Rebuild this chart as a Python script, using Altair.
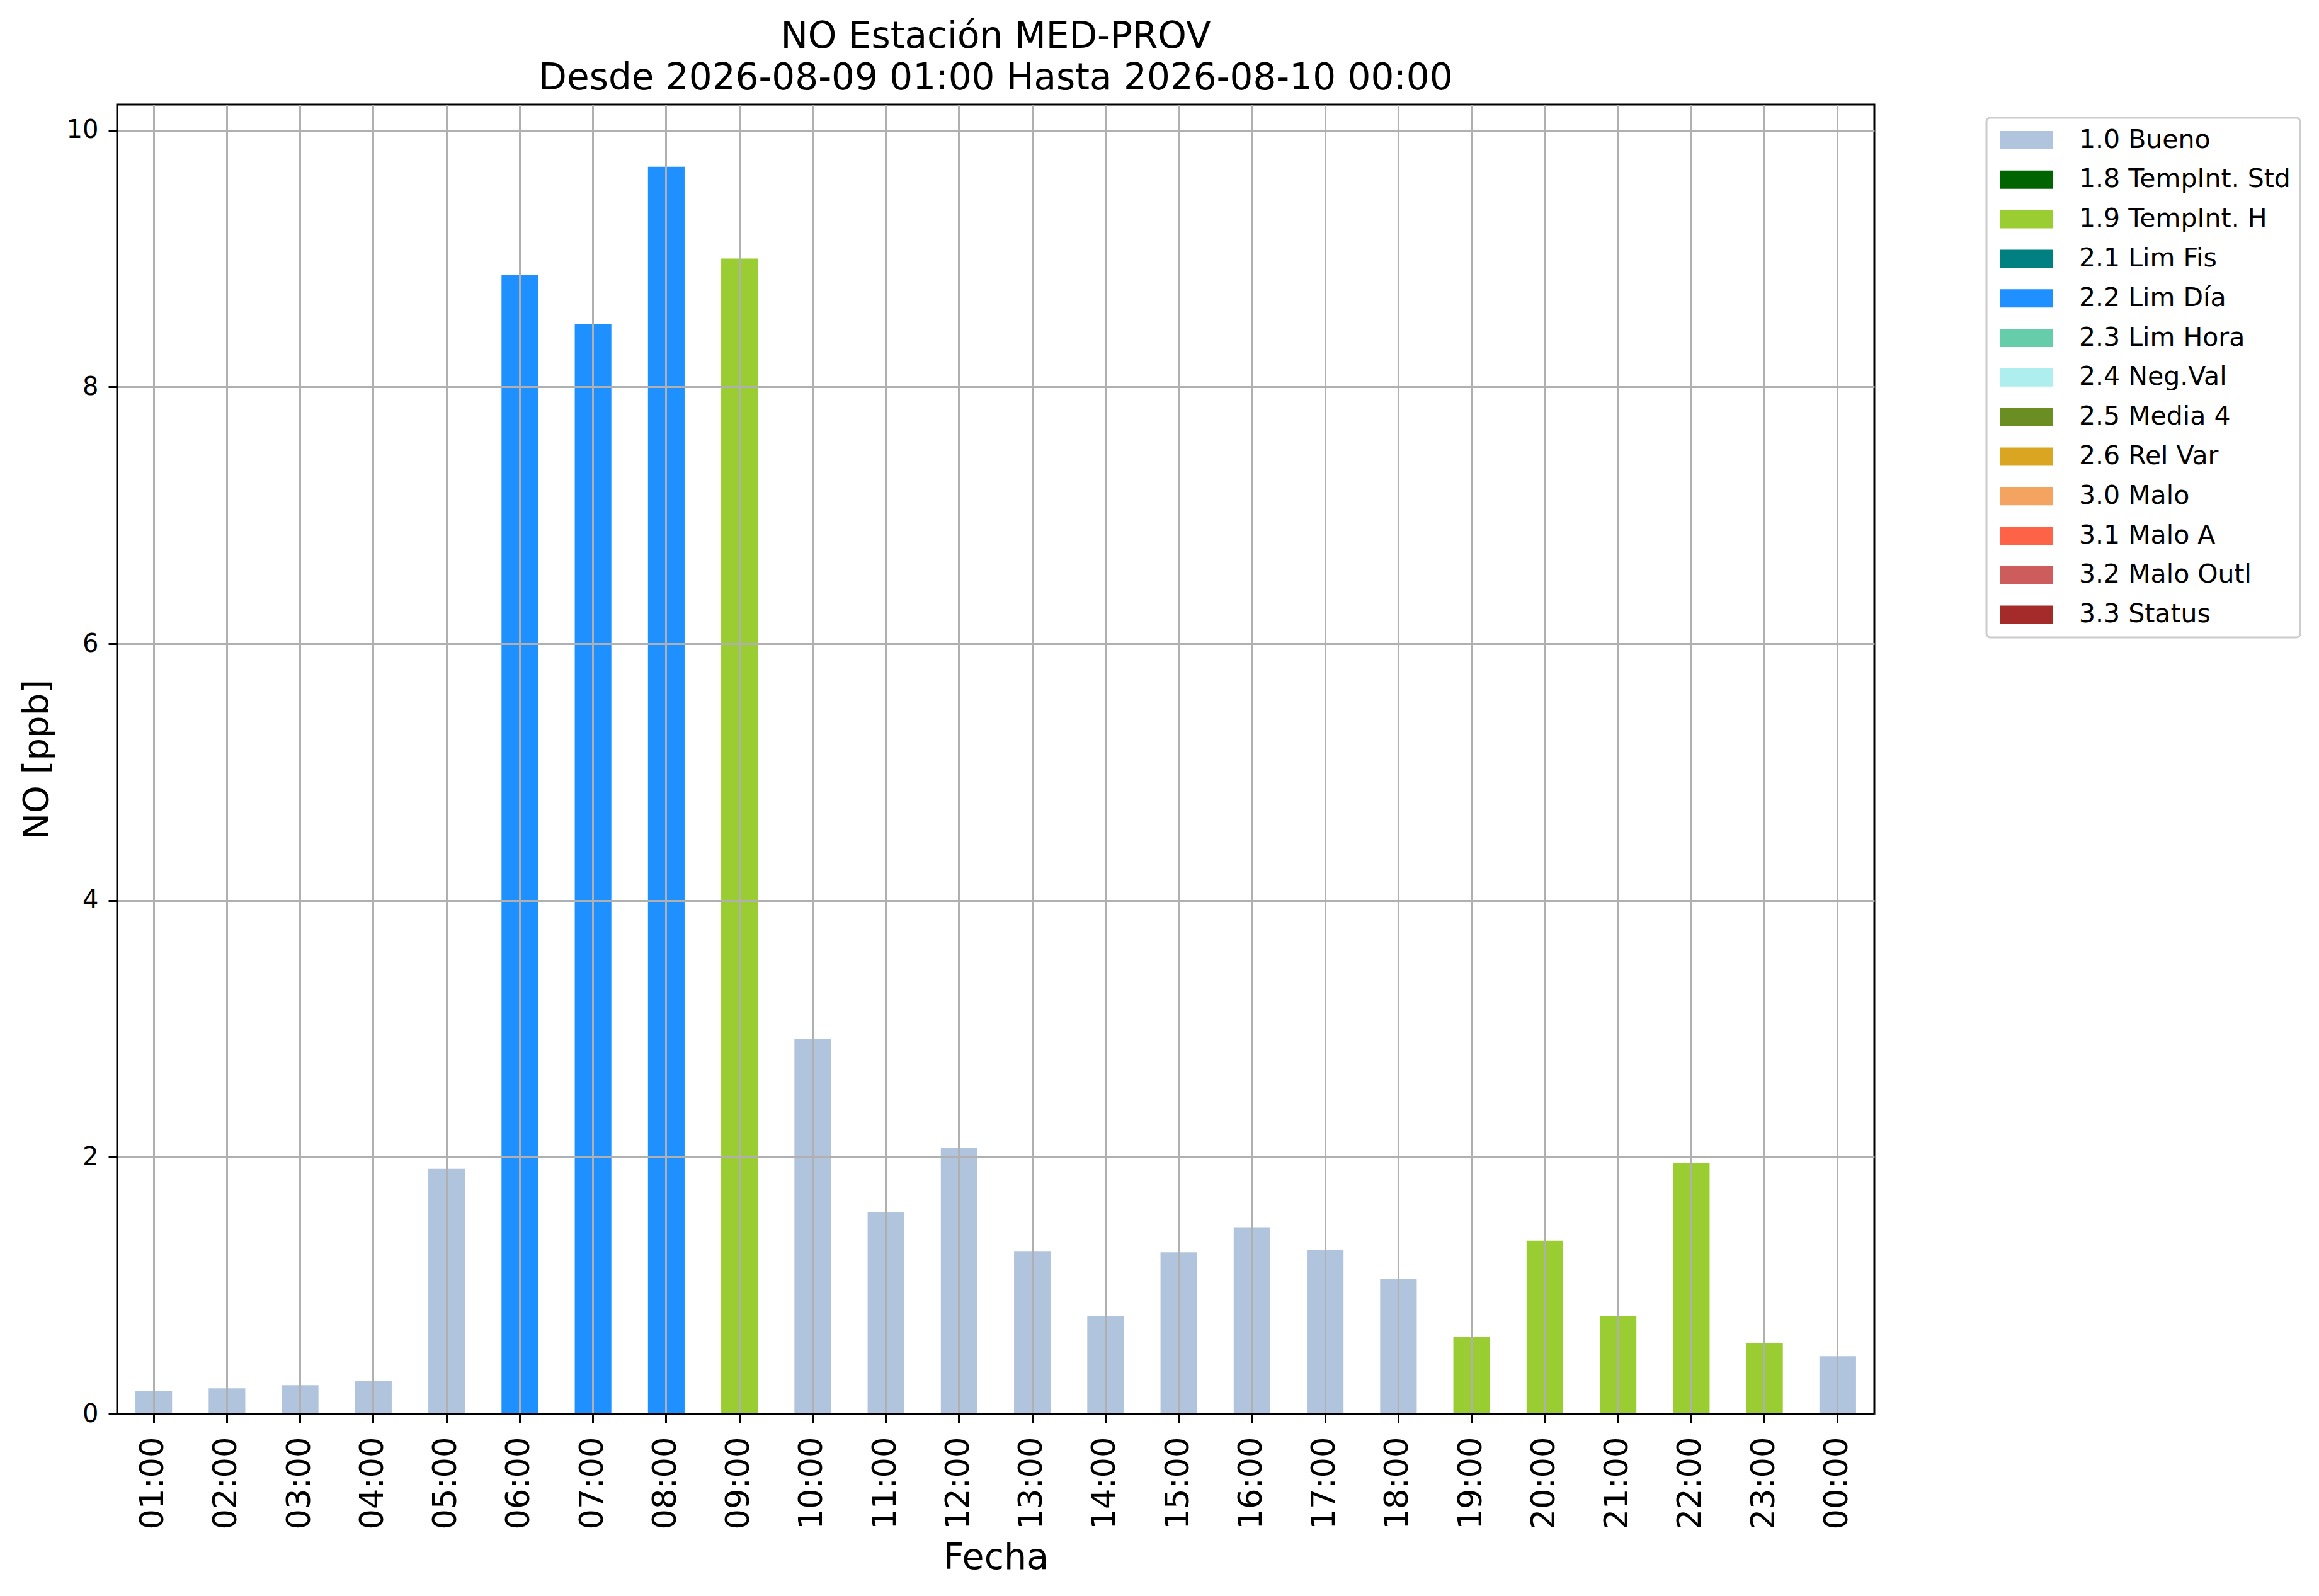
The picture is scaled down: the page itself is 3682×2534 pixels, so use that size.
import altair as alt
import pandas as pd

hours = ["01:00", "02:00", "03:00", "04:00", "05:00", "06:00", "07:00", "08:00",
         "09:00", "10:00", "11:00", "12:00", "13:00", "14:00", "15:00", "16:00",
         "17:00", "18:00", "19:00", "20:00", "21:00", "22:00", "23:00", "00:00"]
values = [0.18, 0.20, 0.225, 0.26, 1.91, 8.87, 8.49, 9.715, 9.00, 2.92, 1.57, 2.07,
          1.265, 0.76, 1.26, 1.455, 1.28, 1.05, 0.60, 1.35, 0.76, 1.955, 0.555, 0.45]
flags = (["1.0 Bueno"] * 5 + ["2.2 Lim Día"] * 3 + ["1.9 TempInt. H"] +
         ["1.0 Bueno"] * 9 + ["1.9 TempInt. H"] * 5 + ["1.0 Bueno"])

flag_names = ["1.0 Bueno", "1.8 TempInt. Std", "1.9 TempInt. H", "2.1 Lim Fis",
              "2.2 Lim Día", "2.3 Lim Hora", "2.4 Neg.Val", "2.5 Media 4",
              "2.6 Rel Var", "3.0 Malo", "3.1 Malo A", "3.2 Malo Outl", "3.3 Status"]
flag_colors = ["#b0c4de", "#006400", "#9acd32", "#008080", "#1e90ff", "#66cdaa",
               "#afeeee", "#6b8e23", "#daa520", "#f4a460", "#ff6347", "#cd5c5c",
               "#a52a2a"]

y_ticks = [0, 2, 4, 6, 8, 10]

df = pd.DataFrame({"hora": hours, "valor": values, "flag": flags})

FONT = "DejaVu Sans"

chart = alt.Chart(df).mark_bar(opacity=1).encode(
    x=alt.X("hora:N", sort=hours,
            scale=alt.Scale(paddingInner=0.5, paddingOuter=0.25),
            axis=alt.Axis(title="Fecha", labelAngle=-90, labelFontSize=51,
                          titleFontSize=57, titleFontWeight="normal",
                          labelPadding=22, titlePadding=18, tickSize=14,
                          tickWidth=3, tickColor="black", domainColor="black",
                          domainWidth=3, grid=True, gridColor="#b0b0b0",
                          gridWidth=3, bandPosition=0.5, labelColor="black",
                          titleColor="black", zindex=1)),
    y=alt.Y("valor:Q", scale=alt.Scale(domain=[0, 10.2], nice=False, zero=True),
            axis=alt.Axis(title="NO [ppb]", values=y_ticks, format="d",
                          labelFontSize=40, titleFontSize=56,
                          titleFontWeight="normal", labelPadding=16,
                          titlePadding=18, tickSize=14, tickWidth=3,
                          tickColor="black", domainColor="black", domainWidth=3,
                          grid=True, gridColor="#b0b0b0", gridWidth=3,
                          labelColor="black", titleColor="black", zindex=1)),
    color=alt.Color("flag:N",
                    scale=alt.Scale(domain=flag_names, range=flag_colors),
                    legend=alt.Legend(title=None, orient="none", legendX=2968,
                                      legendY=21, labelFontSize=41,
                                      labelColor="black",
                                      symbolType="M-1,-1H4.8V1H-1Z",
                                      symbolSize=841, symbolStrokeWidth=0,
                                      symbolOpacity=1, labelOffset=91,
                                      rowPadding=20.8, padding=15,
                                      strokeColor="#cccccc",
                                      cornerRadius=6, fillColor="white",
                                      labelLimit=1000)),
).properties(
    width=2790,
    height=2079,
    title=alt.TitleParams(
        text=["NO Estación MED-PROV", "Desde 2026-08-09 01:00 Hasta 2026-08-10 00:00"],
        fontSize=58, fontWeight="normal", color="black", lineHeight=66,
        offset=12, anchor="middle"),
    autosize="none",
    padding={"left": 178, "top": 158, "right": 680, "bottom": 270},
).configure(
    font=FONT,
).configure_legend(
    strokeWidth=3,
).configure_view(
    stroke="black", strokeWidth=3,
)

chart.save("out.html", embed_options={"renderer": "svg", "actions": False})
